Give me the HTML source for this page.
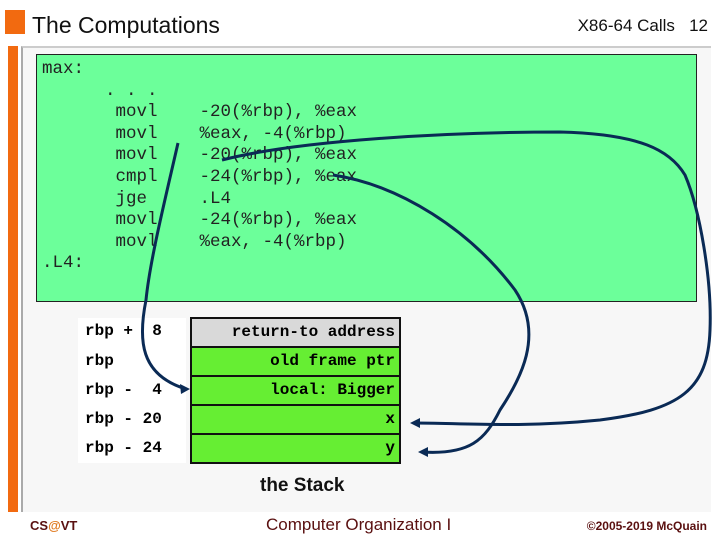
<!DOCTYPE html>
<html><head><style>
*{margin:0;padding:0}
body{width:720px;height:540px;background:#fff;position:relative;overflow:hidden;font-family:"Liberation Sans",sans-serif}
.a{position:absolute}
.code{font-family:"Liberation Mono",monospace;font-size:17.5px;color:#222;white-space:pre;line-height:21.6px}
.row{position:absolute;left:190px;width:203px;height:27px;border:2px solid #111;background:#66ee33;font:bold 16px "Liberation Mono",monospace;text-align:right;line-height:27px;padding-right:4px;box-sizing:content-box}
.lab{position:absolute;left:85px;font:bold 16px "Liberation Mono",monospace;white-space:pre}
</style></head><body>
<div class="a" style="left:5px;top:10px;width:20px;height:24px;background:#f26a10"></div>
<div class="a" style="left:32px;top:12px;font-size:23px;color:#111">The Computations</div>
<div class="a" style="right:12px;top:16px;font-size:17px;color:#111">X86-64 Calls&nbsp;&nbsp;&nbsp;12</div>
<div class="a" style="left:8px;top:46px;width:10px;height:466px;background:#f26a10"></div>
<div class="a" style="left:21px;top:46px;width:688px;height:464px;background:#f7f7f7;border-left:2px solid #aaa;border-top:2px solid #ccc"></div>
<div class="a" style="left:36px;top:54px;width:659px;height:246px;background:#6cff9a;border:1px solid #222"></div>
<div class="a code" style="left:42px;top:59px">max:
      . . .
       movl    -20(%rbp), %eax
       movl    %eax, -4(%rbp)
       movl    -20(%rbp), %eax
       cmpl    -24(%rbp), %eax
       jge     .L4
       movl    -24(%rbp), %eax
       movl    %eax, -4(%rbp)
.L4:</div>
<div class="a" style="left:78px;top:318px;width:108px;height:145px;background:#fff"></div>
<div class="lab" style="top:322px">rbp +  8</div>
<div class="lab" style="top:352px">rbp</div>
<div class="lab" style="top:381px">rbp -  4</div>
<div class="lab" style="top:410px">rbp - 20</div>
<div class="lab" style="top:439px">rbp - 24</div>
<div class="row" style="top:317px;background:#d9d9d9">return-to address</div>
<div class="row" style="top:346px">old frame ptr</div>
<div class="row" style="top:375px">local: Bigger</div>
<div class="row" style="top:404px">x</div>
<div class="row" style="top:433px">y</div>
<div class="a" style="left:260px;top:475px;font-size:19px;font-weight:bold;color:#111">the Stack</div>
<svg class="a" style="left:0;top:0" width="720" height="540">
<g fill="none" stroke="#0a2a55" stroke-width="3">
<path d="M178,143 C165,200 150,260 146,300 C138,340 140,375 186,389"/>
<path d="M222,160 C300,140 450,132 560,132 C640,134 670,150 685,175 C700,210 712,280 710,330 C708,390 680,410 600,420 C520,428 460,423 414,423"/>
<path d="M333,175 C400,185 470,230 515,290 C545,335 520,380 500,410 C485,440 470,455 422,452"/>
</g>
<g fill="#0a2a55">
<polygon points="190,389 180,384 181,394"/>
<polygon points="410,423 420,418 420,428"/>
<polygon points="418,452 428,447 428,457"/>
</g>
</svg>
<div class="a" style="left:30px;top:518px;font-size:13px;font-weight:bold;color:#5a1010">CS<span style="color:#e07a20">@</span>VT</div>
<div class="a" style="left:266px;top:515px;font-size:17px;color:#5a1010">Computer Organization I</div>
<div class="a" style="right:13px;top:519px;font-size:12px;font-weight:bold;color:#5a1010">©2005-2019 McQuain</div>
</body></html>
